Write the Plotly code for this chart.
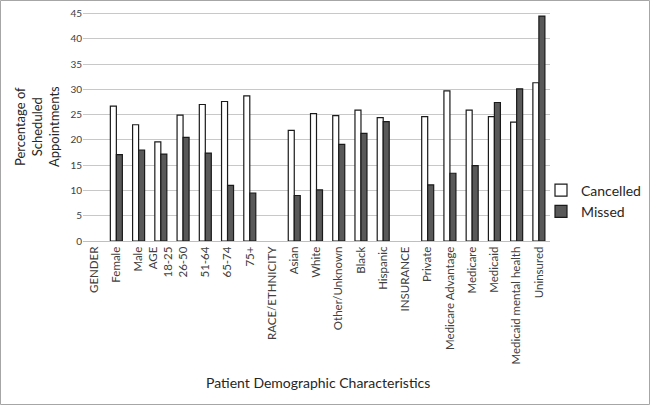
import plotly.graph_objects as go

categories = ["GENDER", "Female", "Male", "AGE<br>18-25", "26-50", "51-64", "65-74", "75+",
              "RACE/ETHNICITY", "Asian", "White", "Other/Unknown", "Black", "Hispanic",
              "INSURANCE", "Private", "Medicare Advantage", "Medicare", "Medicaid",
              "Medicaid mental health", "Uninsured"]
cancelled = [None, 26.7, 23.0, 19.6, 24.9, 27.0, 27.6, 28.7,
             None, 21.9, 25.2, 24.8, 25.9, 24.4,
             None, 24.6, 29.7, 25.9, 24.6, 23.5, 31.3]
missed = [None, 17.1, 18.0, 17.2, 20.5, 17.4, 11.0, 9.5,
          None, 9.0, 10.1, 19.1, 21.3, 23.6,
          None, 11.1, 13.4, 14.9, 27.4, 30.1, 44.5]
y_ticks = [0, 5, 10, 15, 20, 25, 30, 35, 40, 45]

FONT = "Lato, 'Open Sans', sans-serif"

fig = go.Figure()
fig.add_trace(go.Bar(x=categories, y=cancelled, name="Cancelled",
                     marker=dict(color="white", line=dict(color="#1a1a1a", width=1.2))))
fig.add_trace(go.Bar(x=categories, y=missed, name="Missed",
                     marker=dict(color="#595959", line=dict(color="#1a1a1a", width=1.2))))

L, R, T, B = 83, 100, 12, 164
W, H = 650, 405
pw, ph = W - L - R, H - T - B

fig.update_layout(
    width=W, height=H,
    margin=dict(l=L, r=R, t=T, b=B, autoexpand=False),
    paper_bgcolor="white", plot_bgcolor="white",
    barmode="group", bargap=0.46, bargroupgap=0,
    font=dict(family=FONT, color="#404040"),
    showlegend=True,
    legend=dict(x=(541 - L) / pw, y=(241 - 201) / ph, xanchor="left", yanchor="middle",
                font=dict(size=14, color="#262626", family=FONT),
                itemwidth=30, bgcolor="rgba(0,0,0,0)"),
    xaxis=dict(tickangle=-90, tickfont=dict(size=11.5, color="#404040"),
               showline=True, linecolor="#bfbfbf", linewidth=1,
               ticks="", showgrid=False, automargin=False),
    yaxis=dict(range=[0, 45.3], tickvals=y_ticks, tickfont=dict(size=10, color="#404040"),
               showgrid=True, gridcolor="#c8c8c8", gridwidth=1, zeroline=False,
               showline=False, ticks="", ticklen=0, automargin=False),
    annotations=[
        dict(text="Percentage of<br>Scheduled<br>Appointments", xref="paper", yref="paper",
             x=(37 - L) / pw, y=(241 - 127) / ph, textangle=-90, showarrow=False,
             xanchor="center", yanchor="middle",
             font=dict(size=13, color="#262626", family=FONT)),
        dict(text="Patient Demographic Characteristics", xref="paper", yref="paper",
             x=(318 - L) / pw, y=-(382 - 241) / ph, showarrow=False,
             xanchor="center", yanchor="middle",
             font=dict(size=14, color="#262626", family=FONT)),
    ],
    shapes=[dict(type="rect", xref="paper", yref="paper",
                 x0=(0.5 - L) / pw, x1=(W - 0.5 - L) / pw,
                 y0=-(H - T - 0.5 - ph) / ph, y1=(T - 0.5 + ph) / ph,
                 line=dict(color="#a6a6a6", width=1), fillcolor="rgba(0,0,0,0)")],
)

fig.write_html("out.html", config={"displayModeBar": False},
               post_script="document.body.style.margin='0';document.body.style.overflow='hidden';")
